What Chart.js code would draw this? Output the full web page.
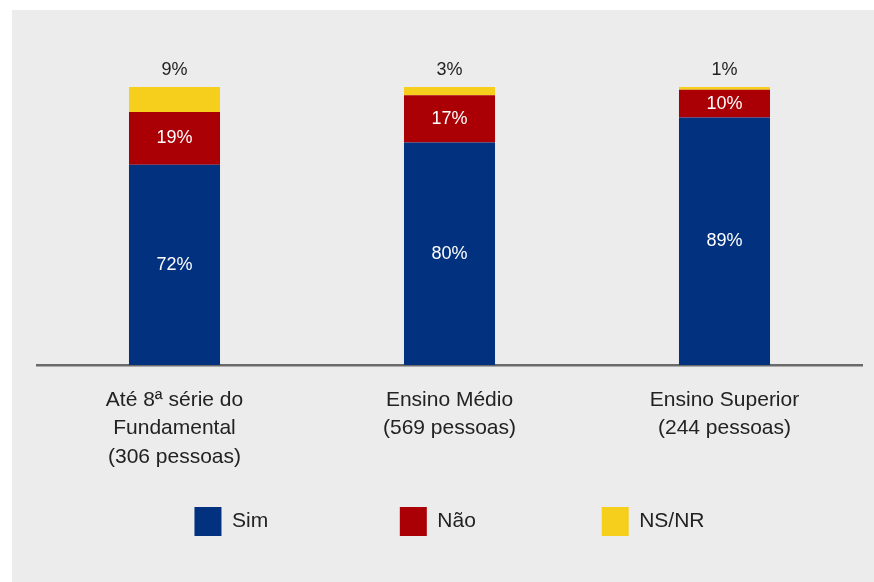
<!DOCTYPE html>
<html lang="pt">
<head>
<meta charset="UTF-8">
<title>Sim / Não / NS-NR por escolaridade</title>
<script src="https://cdn.jsdelivr.net/npm/chart.js"></script>
<style>
  body { margin: 0; background: #fff; }
  #panel { position: absolute; left: 12px; top: 10px; width: 862px; height: 572px; background: #ececec; }
</style>
</head>
<body>
<div id="panel"><canvas id="chart"></canvas></div>
<script>
const categories = [
  ['Até 8ª série do', 'Fundamental', '(306 pessoas)'],
  ['Ensino Médio', '(569 pessoas)'],
  ['Ensino Superior', '(244 pessoas)']
];
const sim = [72, 80, 89];
const nao = [19, 17, 10];
const nsnr = [9, 3, 1];

const FONT = '"Liberation Sans", Arial, Helvetica, sans-serif';

// trailing spaces widen the legend items so the boxes sit ~205px apart
const legendGap = [' '.repeat(20), ' '.repeat(19), ''];

// percent labels: inside for Sim/Não, above the bar for NS/NR
const barLabels = {
  id: 'barLabels',
  afterDatasetsDraw(chart) {
    const ctx = chart.ctx;
    ctx.save();
    ctx.font = '18px ' + FONT;
    ctx.textAlign = 'center';
    ctx.textBaseline = 'middle';
    chart.data.datasets.forEach((ds, i) => {
      const meta = chart.getDatasetMeta(i);
      meta.data.forEach((bar, j) => {
        const txt = ds.data[j] + '%';
        if (i < 2) {
          ctx.fillStyle = '#ffffff';
          ctx.fillText(txt, bar.x, (bar.y + bar.base) / 2);
        } else {
          ctx.fillStyle = '#222222';
          ctx.fillText(txt, bar.x, bar.y - 17);
        }
      });
    });
    ctx.restore();
  }
};

const chart = new Chart(document.getElementById('chart'), {
  type: 'bar',
  data: {
    labels: categories,
    datasets: [
      { label: 'Sim', data: sim, backgroundColor: '#02317f' },
      { label: 'Não', data: nao, backgroundColor: '#aa0005' },
      { label: 'NS/NR', data: nsnr, backgroundColor: '#f6cf1d' }
    ]
  },
  options: {
    responsive: true,
    maintainAspectRatio: false,
    animation: false,
    datasets: { bar: { categoryPercentage: 1, barPercentage: 0.331, borderWidth: 0 } },
    layout: { padding: { left: 25, right: 12, top: 77, bottom: 36 } },
    scales: {
      x: {
        stacked: true,
        grid: { display: false, drawTicks: false },
        border: { display: true, color: '#6a6a6a', width: 2.5 },
        ticks: {
          color: '#222', padding: 21, maxRotation: 0, autoSkip: false,
          font: { family: FONT, size: 21, lineHeight: 1.35 }
        }
      },
      y: { stacked: true, display: false, min: 0, max: 100 }
    },
    plugins: {
      legend: {
        position: 'bottom',
        labels: {
          boxWidth: 27, boxHeight: 29, padding: 15, color: '#222',
          font: { family: FONT, size: 21 },
          generateLabels(c) {
            const items = Chart.defaults.plugins.legend.labels.generateLabels(c);
            items.forEach((it, k) => { it.text = it.text + legendGap[k]; });
            return items;
          }
        }
      },
      tooltip: { enabled: false }
    }
  },
  plugins: [barLabels]
});
</script>
</body>
</html>
